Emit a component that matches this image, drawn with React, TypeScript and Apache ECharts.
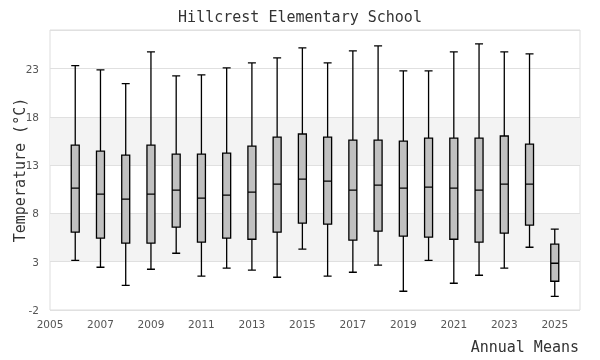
import React, { useEffect, useRef } from "react";
import * as echarts from "echarts";

const years = [2006, 2007, 2008, 2009, 2010, 2011, 2012, 2013, 2014, 2015, 2016, 2017, 2018, 2019, 2020, 2021, 2022, 2023, 2024, 2025];
const lows = [3.15, 2.43, 0.56, 2.22, 3.88, 1.5, 2.33, 2.12, 1.39, 4.3, 1.5, 1.91, 2.64, -0.06, 3.15, 0.77, 1.6, 2.33, 4.5, -0.58];
const q1s = [6.06, 5.44, 4.92, 4.92, 6.58, 5.02, 5.44, 5.33, 6.06, 6.99, 6.89, 5.23, 6.16, 5.65, 5.54, 5.33, 5.02, 5.96, 6.79, 0.98];
const medians = [10.62, 10.0, 9.48, 10.0, 10.42, 9.59, 9.9, 10.21, 11.04, 11.56, 11.35, 10.42, 10.94, 10.62, 10.73, 10.62, 10.42, 11.04, 11.04, 2.84];
const q3s = [15.08, 14.46, 14.05, 15.08, 14.15, 14.15, 14.25, 14.98, 15.91, 16.23, 15.91, 15.6, 15.6, 15.5, 15.81, 15.81, 15.81, 16.02, 15.19, 4.82];
const highs = [23.3, 22.86, 21.44, 24.73, 22.24, 22.35, 23.07, 23.59, 24.11, 25.15, 23.59, 24.84, 25.35, 22.76, 22.76, 24.73, 25.56, 24.73, 24.52, 6.37];

const yTicks = { min: -2, max: 27, interval: 5 };
const xTicks = { min: 2005, max: 2026, interval: 2 };

export default function App() {
  const ref = useRef<HTMLDivElement>(null);
  useEffect(() => {
    if (!ref.current) return;
    const chart = echarts.init(ref.current, null, { renderer: "svg" });
    const data = years.map((y, i) => [y, lows[i], q1s[i], medians[i], q3s[i], highs[i]]);
    chart.setOption({
      animation: false,
      title: {
        text: "Hillcrest Elementary School",
        left: "center",
        top: 4,
        textStyle: { fontFamily: "DejaVu Sans Mono", fontSize: 15, fontWeight: "normal", color: "#333" },
      },
      grid: {
        left: 50, right: 20, top: 30, bottom: 50,
        containLabel: false,
        outerBoundsMode: "none",
        show: true, borderColor: "#dddddd", borderWidth: 1, backgroundColor: "transparent",
      },
      xAxis: {
        type: "value",
        min: xTicks.min,
        max: xTicks.max,
        interval: xTicks.interval,
        axisLine: { show: false },
        axisTick: { show: false },
        splitLine: { show: false },
        axisLabel: {
          showMaxLabel: false,
          formatter: (v: number) => String(v),
          fontFamily: "DejaVu Sans",
          fontSize: 10.5,
          color: "#555",
          margin: 8,
        },
      },
      yAxis: {
        type: "value",
        min: yTicks.min,
        max: yTicks.max,
        interval: yTicks.interval,
        axisLine: { show: false },
        axisTick: { show: false },
        splitLine: { show: true, lineStyle: { color: "#e0e0e0", width: 1 } },
        splitArea: { show: true, areaStyle: { color: ["rgba(0,0,0,0)", "#f3f3f3", "rgba(0,0,0,0)", "#f3f3f3", "rgba(0,0,0,0)", "rgba(0,0,0,0)"] } },
        axisLabel: {
          showMaxLabel: false,
          fontFamily: "DejaVu Sans",
          fontSize: 10.5,
          color: "#555",
          margin: 11,
        },
      },
      graphic: [
        {
          type: "text",
          right: 21,
          top: 339,
          style: { text: "Annual Means", font: "15px 'DejaVu Sans Mono'", fill: "#333" },
        },
        {
          type: "text",
          x: 20,
          y: 170,
          rotation: Math.PI / 2,
          style: {
            text: "Temperature (°C)",
            font: "15px 'DejaVu Sans Mono'",
            fill: "#333",
            align: "center",
            verticalAlign: "middle",
          },
        },
      ],
      series: [
        {
          type: "boxplot",
          layout: "horizontal",
          data,
          boxWidth: [8, 8],
          itemStyle: { color: "#c0c0c0", borderColor: "#000", borderWidth: 1.3 },
        },
      ],
    });
    return () => chart.dispose();
  }, []);
  return <div ref={ref} style={{ position: "fixed", left: 0, top: 0, width: 600, height: 360 }} />;
}
